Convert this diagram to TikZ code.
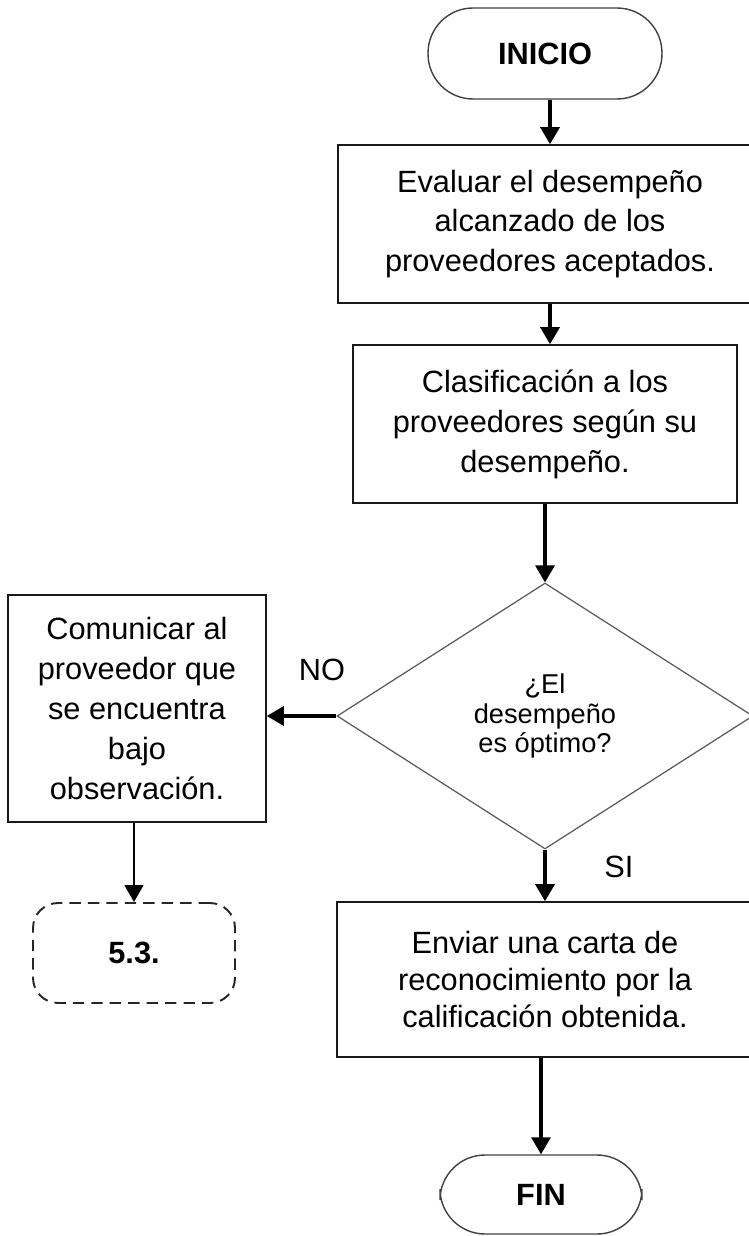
\documentclass[tikz,border=0pt]{standalone}
\usepackage{fontspec}
\setmainfont{Liberation Sans}
\usetikzlibrary{positioning, arrows.meta, shapes.geometric}

\begin{document}
\begin{tikzpicture}[
    x=0.02cm, y=-0.02cm,
    every node/.style={font=\fontsize{17.5}{22.7}\selectfont, align=center, inner sep=0pt},
    terminal/.style={rectangle, rounded corners=0.9cm, draw=black!75, line width=0.8pt, font=\fontsize{17.5}{22.7}\selectfont\bfseries},
    process/.style={rectangle, draw=black!90, line width=0.9pt},
    decision/.style={diamond, draw=black!65, line width=0.7pt, minimum width=8.32cm, minimum height=5.32cm, font=\fontsize{15.5}{17}\selectfont},
    offpage/.style={rectangle, rounded corners=0.5cm, draw=black!85, line width=1.1pt, dash pattern=on 6.5pt off 4pt, font=\fontsize{17.5}{22.7}\selectfont\bfseries},
    flow/.style={line width=1.8pt, -{Triangle[length=0.34cm, width=0.38cm]}},
    thinflow/.style={line width=0.9pt, -{Triangle[length=0.34cm, width=0.38cm]}}
]
  \useasboundingbox (0,0) rectangle (749,1236);

  % Main column
  \node[terminal, minimum width=4.68cm, minimum height=1.82cm] (inicio) at (545,53.5) {INICIO};
  \node[process, minimum width=8.48cm, minimum height=3.16cm] (evaluar) at (550,224) {Evaluar el desempeño\\alcanzado de los\\proveedores aceptados.};
  \node[process, minimum width=7.68cm, minimum height=3.16cm] (clasif) at (545,424) {Clasificación a los\\proveedores según su\\desempeño.};
  \node[decision] (optimo) at (545,716) {¿El\\desempeño\\es óptimo?};
  \node[process, minimum width=8.32cm, minimum height=3.1cm, font=\fontsize{17.5}{21}\selectfont] (carta) at (545,979.5) {Enviar una carta de\\reconocimiento por la\\calificación obtenida.};
  \node[terminal, minimum width=4.04cm, minimum height=1.58cm] (fin) at (541,1194.5) {FIN};

  % Branch NO (left)
  \node[process, minimum width=5.16cm, minimum height=4.54cm] (comunicar) at (137,708.5) {Comunicar al\\proveedor que\\se encuentra\\bajo\\observación.};
  \node[offpage, minimum width=4.04cm, minimum height=2cm] (ref53) at (134,953) {5.3.};

  % Labels
  \node (lblno) at (322,670) {NO};
  \node (lblsi) at (619,867) {SI};

  % Connectors
  \draw[flow] (inicio.south -| evaluar) -- (evaluar.north);
  \draw[flow] (evaluar.south) -- (evaluar.south |- clasif.north);
  \draw[flow] (clasif.south) -- (optimo.north);
  \draw[flow] (optimo.west) -- (optimo.west -| comunicar.east);
  \draw[flow] (optimo.south) -- (carta.north);
  \draw[flow] (carta.south -| fin) -- (fin.north);
  \draw[thinflow] (comunicar.south -| ref53) -- (ref53.north);
\end{tikzpicture}
\end{document}
